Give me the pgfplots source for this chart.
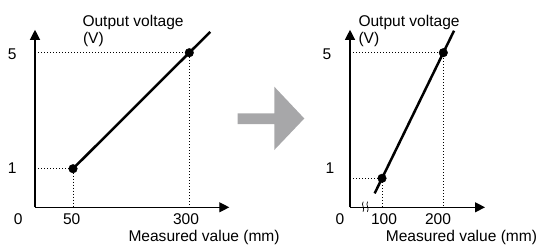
\documentclass[border=0pt]{standalone}
\usepackage{pgfplots}
\pgfplotsset{compat=1.18}
\usepackage{fontspec}
\setmainfont{Liberation Sans}
\usetikzlibrary{arrows.meta}
\definecolor{arrowgray}{HTML}{A7A7A9}
\newcommand{\lf}{\fontsize{15.6}{18}\selectfont}
\begin{document}
\begin{tikzpicture}[x=1bp,y=1bp]
\path (0,0) rectangle (541,245);
% ---------- left chart ----------
\begin{axis}[
  at={(35bp,37.7bp)}, anchor=south west,
  scale only axis, width=194.3bp, height=177.5bp,
  xmin=-31.7, xmax=386, ymin=-0.331, ymax=5.79,
  axis lines=left, xtick=\empty, ytick=\empty,
  axis line style={line width=1.2bp,-{Triangle[length=10bp,width=10bp]}},
  clip=false]
\addplot[black, line width=0.9bp, dash pattern=on 0.9bp off 2.1bp] coordinates {(-31.7,1) (50,1) (50,-0.331)};
\addplot[black, line width=0.9bp, dash pattern=on 0.9bp off 2.1bp] coordinates {(-31.7,5) (300,5) (300,-0.331)};
\addplot[black, line width=2.5bp] coordinates {(50,1) (345,5.72)};
\addplot[black, only marks, mark=*, mark size=4.3bp] coordinates {(50,1) (300,5)};
\end{axis}
% ---------- right chart ----------
\begin{axis}[
  at={(350bp,37.7bp)}, anchor=south west,
  scale only axis, width=135bp, height=177.5bp,
  xmin=47.8, xmax=268, ymin=0.076, ymax=5.729,
  axis lines=left, xtick=\empty, ytick=\empty,
  axis line style={line width=1.2bp,-{Triangle[length=10bp,width=10bp]}},
  clip=false]
\addplot[black, line width=0.9bp, dash pattern=on 0.9bp off 2.1bp] coordinates {(47.8,1) (100,1) (100,0.076)};
\addplot[black, line width=0.9bp, dash pattern=on 0.9bp off 2.1bp] coordinates {(47.8,5) (200,5) (200,0.076)};
\addplot[black, line width=2.5bp] coordinates {(88,0.52) (217.5,5.7)};
\addplot[black, only marks, mark=*, mark size=4.3bp] coordinates {(100,1) (200,5)};
\end{axis}
% axis break mark
\draw[line width=0.7bp] (363.2,43.3) .. controls (360.8,40.3) and (365.4,36.5) .. (363,33.3);
\draw[line width=0.7bp] (367.6,43.3) .. controls (365.2,40.3) and (369.8,36.5) .. (367.4,33.3);
% gray arrow
\fill[arrowgray] (237.7,131.7) -- (274.3,131.7) -- (274.3,158.3) -- (304.3,126.5) -- (274.3,95) -- (274.3,121) -- (237.7,121) -- cycle;
% left labels
\node[anchor=base, inner sep=0] at (18.3,20.7) {\lf 0};
\node[anchor=base, inner sep=0] at (71.7,20.7) {\lf 50};
\node[anchor=base, inner sep=0] at (186,20.7) {\lf 300};
\node[anchor=base, inner sep=0] at (12.3,185.5) {\lf 5};
\node[anchor=base, inner sep=0] at (12.3,71.7) {\lf 1};
\node[anchor=base west, inner sep=0] at (82.3,218.3) {\lf Output voltage};
\node[anchor=base west, inner sep=0] at (82.8,202) {\lf (V)};
\node[anchor=base west, inner sep=0] at (128.3,3.3) {\lf Measured value (mm)};
% right labels
\node[anchor=base, inner sep=0] at (340,20.7) {\lf 0};
\node[anchor=base, inner sep=0] at (384,20.7) {\lf 100};
\node[anchor=base, inner sep=0] at (438,20.7) {\lf 200};
\node[anchor=base, inner sep=0] at (327,185.5) {\lf 5};
\node[anchor=base, inner sep=0] at (330,71.7) {\lf 1};
\node[anchor=base west, inner sep=0] at (358.3,218.3) {\lf Output voltage};
\node[anchor=base west, inner sep=0] at (358.3,202) {\lf (V)};
\node[anchor=base west, inner sep=0] at (385.7,3.3) {\lf Measured value (mm)};
\end{tikzpicture}
\end{document}
